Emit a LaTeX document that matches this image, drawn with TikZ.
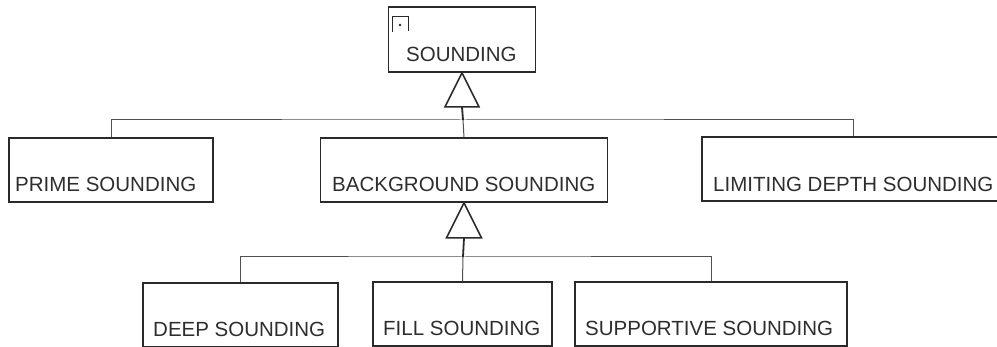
\documentclass[tikz,border=0pt]{standalone}
\usepackage{fontspec}
\setmainfont{Liberation Sans}
\definecolor{boxc}{HTML}{2A2A2A}
\definecolor{linec}{HTML}{505050}
\definecolor{txtc}{HTML}{2E2E2E}
\begin{document}
\begin{tikzpicture}[x=1pt,y=-1pt,
  box/.style={draw=boxc, line width=1.7pt, fill=white, rectangle, inner sep=0pt},
  lbl/.style={text=txtc, inner sep=0pt, anchor=base west, font=\fontsize{20.5}{21}\selectfont},
  conn/.style={draw=linec, line width=1pt},
  tri/.style={draw=boxc, line width=1.5pt, fill=white, line join=miter},
  stem/.style={draw=boxc, line width=1.8pt}]
\useasboundingbox[fill=white] (0,0) rectangle (997,347);
% boxes
\node[box, minimum width=147pt, minimum height=65pt] (snd) at (462,39.5) {};
\node[box, minimum width=204pt, minimum height=64pt] (prime) at (111,170) {};
\node[box, minimum width=287pt, minimum height=64pt] (bg) at (464,170) {};
\node[box, minimum width=302pt, minimum height=64pt] (lim) at (853,169) {};
\node[box, minimum width=195pt, minimum height=64pt] (deep) at (240.5,315) {};
\node[box, minimum width=179pt, minimum height=64pt] (fill) at (462.5,314) {};
\node[box, minimum width=272pt, minimum height=64pt] (supp) at (711,314) {};
% labels
\node[lbl] (tsnd) at (406,62) {SOUNDING};
\node[lbl] (tprime) at (15,192) {PRIME SOUNDING};
\node[lbl] (tbg) at (332,192) {BACKGROUND SOUNDING};
\node[lbl] (tlim) at (713,192) {LIMITING DEPTH SOUNDING};
\node[lbl] (tdeep) at (153,337) {DEEP SOUNDING};
\node[lbl] (tfill) at (383,336) {FILL SOUNDING};
\node[lbl] (tsupp) at (585,336) {SUPPORTIVE SOUNDING};
% icon in SOUNDING box
\draw[draw=boxc, line width=1pt] (392,32) -- (392,17) -- (408,17) -- (408,31);
\fill[boxc] (400,25) circle (1.4);
% first level generalization
\coordinate (j1) at (463,120);
\draw[conn] (prime.north) |- (j1) -| (lim.north);
\draw[conn] (j1) -- (bg.north);
\draw[stem] (snd.south) ++(0,34) -- (j1);
\draw[tri] (snd.south) -- ++(-17,34) -- ++(34,0) -- cycle;
% second level generalization
\coordinate (j2) at (463,257);
\draw[conn] (deep.north) |- (j2) -| (supp.north);
\draw[conn] (j2) -- (fill.north);
\draw[stem] (bg.south) ++(0,35) -- (j2);
\draw[tri] (bg.south) -- ++(-17.5,35) -- ++(35,0) -- cycle;
\end{tikzpicture}
\end{document}
